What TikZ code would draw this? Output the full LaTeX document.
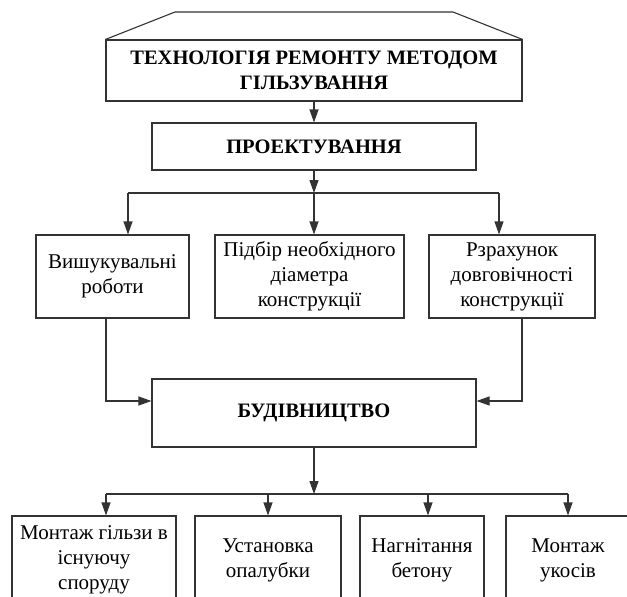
\documentclass[tikz,border=0pt]{standalone}
\usepackage{fontspec}
\setmainfont{Liberation Serif}
\usetikzlibrary{arrows.meta}

\begin{document}
\begin{tikzpicture}[
        x=1pt, y=-1pt,
        font=\fontsize{21}{25}\selectfont,
        >={Triangle[length=13pt,width=9pt]},
        every node/.style={align=center},
        box/.style={rectangle, draw=black!80, line width=1.1pt, inner sep=2pt},
        headbox/.style={box, minimum height=47pt, font=\fontsize{20.5}{25}\selectfont\bfseries},
        taskbox/.style={box, minimum height=83pt},
        workbox/.style={box, minimum height=88pt},
        arr/.style={->, line width=1.1pt, draw=black!80},
        link/.style={line width=1.1pt, draw=black!80},
    ]
    \useasboundingbox (0,0) rectangle (627,597);
    \clip (0,0) rectangle (627,597);

    % title block with roof
    \node[headbox, minimum width=416pt, minimum height=61pt] (tech) at (314,70.5)
        {ТЕХНОЛОГІЯ РЕМОНТУ МЕТОДОМ\\ГІЛЬЗУВАННЯ};
    \draw[link] (tech.north west) -- (175,12) -- (453,12) -- (tech.north east);

    \node[headbox, minimum width=324pt] (proj) at (314,146.5) {ПРОЕКТУВАННЯ};

    \node[taskbox, minimum width=153pt] (surv) at (112.5,276.5) {Вишукувальні\\роботи};
    \node[taskbox, minimum width=189pt] (diam) at (309.5,276.5) {Підбір необхідного\\діаметра\\конструкції};
    \node[taskbox, minimum width=166pt] (dur) at (512,276.5) {Рзрахунок\\довговічності\\конструкції};

    \node[headbox, minimum width=324pt, minimum height=68pt] (build) at (314,413) {БУДІВНИЦТВО};

    \node[workbox, minimum width=164pt] (sleeve) at (94,560) {Монтаж гільзи в\\існуючу\\споруду};
    \node[workbox, minimum width=146pt] (form) at (268,560) {Установка\\опалубки};
    \node[workbox, minimum width=124pt] (grout) at (422,560) {Нагнітання\\бетону};
    \node[workbox, minimum width=124pt] (slope) at (568,560) {Монтаж\\укосів};

    % junctions
    \coordinate (pl) at (128,193);
    \coordinate (pc) at (314,193);
    \coordinate (pr) at (499,193);
    \coordinate (bl) at (106,401);
    \coordinate (br) at (522,401);
    \coordinate (wa) at (106,494);
    \coordinate (wc) at (314,494);
    \coordinate (wb) at (268,494);
    \coordinate (wd) at (428,494);
    \coordinate (we) at (568,494);

    \draw[arr] (tech) -- (proj);

    \draw[arr] (proj) -- (pc);
    \draw[link] (pl) -- (pr);
    \draw[arr] (pl) -- (pl |- surv.north);
    \draw[arr] (pc) -- (pc |- diam.north);
    \draw[arr] (pr) -- (pr |- dur.north);

    \draw[arr] (surv.south -| bl) |- (build.west |- bl);
    \draw[arr] (dur.south -| br) |- (build.east |- br);

    \draw[arr] (build) -- (wc);
    \draw[link] (wa) -- (we);
    \draw[arr] (wa) -- (wa |- sleeve.north);
    \draw[arr] (wb) -- (wb |- form.north);
    \draw[arr] (wd) -- (wd |- grout.north);
    \draw[arr] (we) -- (we |- slope.north);

\end{tikzpicture}
\end{document}
